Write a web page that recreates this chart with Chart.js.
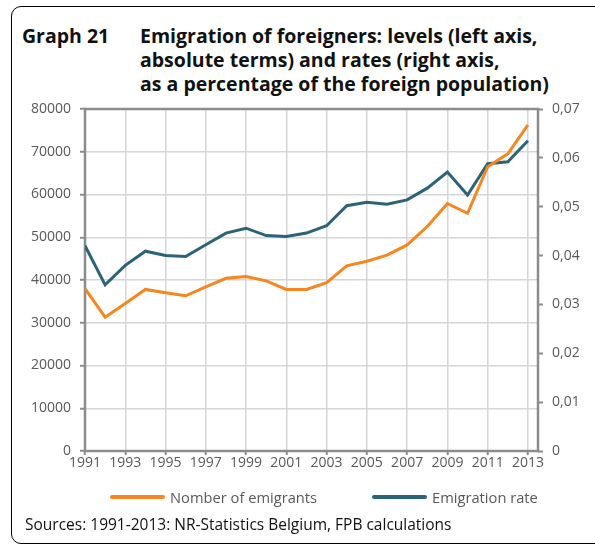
<!DOCTYPE html>
<html>
<head>
<meta charset="utf-8">
<script src="https://cdn.jsdelivr.net/npm/chart.js@4/dist/chart.umd.min.js"></script>
<style>
  html, body { margin: 0; padding: 0; background: #fff; }
  #wrap { position: relative; width: 595px; height: 547px; overflow: hidden; font-family: "Open Sans", sans-serif; }
  #frame { position: absolute; left: 11px; top: 6px; width: 620px; height: 538px; border: 1.5px solid #000; border-radius: 10px; box-sizing: border-box; }
  #title { position: absolute; left: 22px; top: 24px; font-weight: bold; font-size: 19.5px; line-height: 24px; color: #111; }
  #title .num { position: absolute; left: 0; top: 0; white-space: nowrap; }
  #title .txt { position: absolute; left: 118px; top: 0; white-space: nowrap; }
  #source { position: absolute; left: 25px; top: 513px; font-size: 15.5px; color: #111; white-space: nowrap; }
  #legend { position: absolute; top: 487px; left: 0; width: 595px; font-size: 14.7px; color: #595959; }
  .lg { position: absolute; top: 0; white-space: nowrap; display: flex; align-items: center; height: 20px; }
  .lg .sw { display: inline-block; width: 55px; height: 4px; margin-right: 5px; border-radius: 2px; }
  canvas { position: absolute; left: 0; top: 0; }
</style>
</head>
<body>
<div id="wrap">
  <div id="frame"></div>
  <div id="title"><div class="num">Graph 21</div><div class="txt">Emigration of foreigners: levels (left axis,<br>absolute terms) and rates (right axis,<br>as a percentage of the foreign population)</div></div>
  <canvas id="c" width="595" height="547"></canvas>
  <div id="legend"></div>
  <div id="source">Sources: 1991-2013: NR-Statistics Belgium, FPB calculations</div>
</div>
<script>
const years = [1991,1992,1993,1994,1995,1996,1997,1998,1999,2000,2001,2002,2003,2004,2005,2006,2007,2008,2009,2010,2011,2012,2013];
const emigrants = [38000,31300,34500,37800,37000,36300,38400,40400,40800,39800,37800,37800,39400,43300,44400,45800,48200,52500,57900,55600,66500,69500,76300];
const emigrationRate = [0.0420,0.0340,0.0380,0.0409,0.0400,0.0398,0.0422,0.0446,0.0456,0.0441,0.0439,0.0446,0.0461,0.0502,0.0509,0.0505,0.0514,0.0538,0.0571,0.0524,0.0588,0.0592,0.0635];
const xTickYears = [1991,1993,1995,1997,1999,2001,2003,2005,2007,2009,2011,2013];
const seriesNames = ["Nomber of emigrants", "Emigration rate"];
const seriesColors = ["#f7861f", "#2b6378"];

const axisGrey = "#8c8c8c";
const gridGrey = "#d6d6d6";
const tickFont = { family: "Open Sans", size: 14 };

const framePlugin = {
  id: "frame",
  beforeDatasetsDraw(chart) {
    const a = chart.chartArea, ctx = chart.ctx;
    ctx.save();
    ctx.strokeStyle = axisGrey;
    ctx.lineWidth = 2.5;
    ctx.strokeRect(a.left, a.top, a.right - a.left, a.bottom - a.top);
    ctx.restore();
  }
};

const chart = new Chart(document.getElementById("c"), {
  type: "line",
  data: {
    datasets: [
      { label: seriesNames[0], data: years.map((y, i) => ({ x: y, y: emigrants[i] })), borderColor: seriesColors[0], backgroundColor: seriesColors[0], borderWidth: 3, pointRadius: 0, yAxisID: "y", tension: 0 },
      { label: seriesNames[1], data: years.map((y, i) => ({ x: y, y: emigrationRate[i] })), borderColor: seriesColors[1], backgroundColor: seriesColors[1], borderWidth: 3, pointRadius: 0, yAxisID: "y1", tension: 0 }
    ]
  },
  options: {
    responsive: false,
    animation: false,
    layout: { padding: { left: 0, right: 0, top: 109, bottom: 72 } },
    plugins: { legend: { display: false }, tooltip: { enabled: false } },
    scales: {
      x: {
        type: "linear", min: 1991, max: 2013.5,
        afterBuildTicks(scale) { scale.ticks = xTickYears.map(v => ({ value: v })); },
        afterFit(scale) { scale.height = 24; },
        border: { display: false },
        grid: { color: gridGrey, lineWidth: 1.5, borderDash: [5, 3], drawTicks: true, tickLength: 4, tickColor: axisGrey, tickWidth: 2, tickBorderDash: [] },
        ticks: { color: "#595959", font: tickFont, padding: 0, maxRotation: 0, autoSkip: false, callback: v => String(v) }
      },
      y: {
        position: "left", min: 0, max: 80000,
        afterFit(scale) { scale.width = 85; },
        border: { display: false },
        grid: { color: gridGrey, lineWidth: 1.5, borderDash: [5, 3], drawTicks: true, tickLength: 5, tickColor: axisGrey, tickWidth: 2, tickBorderDash: [] },
        ticks: { stepSize: 10000, color: "#595959", font: tickFont, padding: 9, callback: v => String(v) }
      },
      y1: {
        position: "right", min: 0, max: 0.07,
        afterFit(scale) { scale.width = 57; },
        border: { display: false },
        grid: { drawOnChartArea: false, drawTicks: true, tickLength: 5, tickColor: axisGrey, tickWidth: 2 },
        ticks: { stepSize: 0.01, color: "#595959", font: tickFont, padding: 9, callback: v => (Math.abs(v) < 1e-9 ? "0" : v.toFixed(2).replace(".", ",")) }
      }
    }
  },
  plugins: [framePlugin]
});

// legend built from dataset names/colours
const legend = document.getElementById("legend");
const legendLeft = [110, 372];
chart.data.datasets.forEach((ds, i) => {
  const d = document.createElement("div");
  d.className = "lg";
  d.style.left = legendLeft[i] + "px";
  d.innerHTML = '<span class="sw" style="background:' + ds.borderColor + '"></span><span>' + ds.label + '</span>';
  legend.appendChild(d);
});
</script>
</body>
</html>
